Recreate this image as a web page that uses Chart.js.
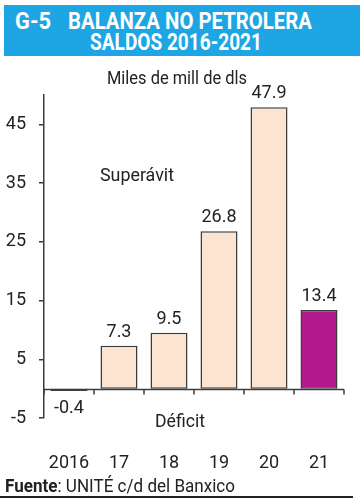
<!DOCTYPE html>
<html>
<head>
<meta charset="utf-8">
<script src="https://cdn.jsdelivr.net/npm/chart.js@4.4.1/dist/chart.umd.min.js"></script>
<style>
  html, body { margin: 0; padding: 0; background: #fff; }
  #wrap { position: relative; width: 364px; height: 500px; overflow: hidden; font-family: Roboto, sans-serif; color: #222; }
  #chartBox { position: absolute; left: 0; top: 0; width: 364px; height: 500px; }
  .txt { position: absolute; white-space: nowrap; transform-origin: 0 50%; line-height: 1; }
  #titleBox { position: absolute; left: 4px; top: 5px; width: 356px; height: 51px; background: #1ea5e3; }
  .title { color: #fff; font-weight: bold; font-size: 23px; }
  #rule { position: absolute; left: 0; top: 496px; width: 353px; height: 2px; background: #222; }
</style>
</head>
<body>
<div id="wrap">
  <div id="chartBox"><canvas id="chart"></canvas></div>
  <div id="titleBox"></div>
  <div class="txt title" data-w="36" style="left:15px; top:21px;">G-5</div>
  <div class="txt title" data-w="244" style="left:68px; top:21px;">BALANZA NO PETROLERA</div>
  <div class="txt title" data-w="172" style="left:90px; top:42px;">SALDOS 2016-2021</div>
  <div class="txt" data-w="140" style="left:107px; top:78px; font-size:18px;">Miles de mill de dls</div>
  <div class="txt" data-w="74" style="left:100px; top:175px; font-size:18px;">Superávit</div>
  <div class="txt" data-w="50" style="left:155px; top:421px; font-size:18px;">Déficit</div>
  <div class="txt" data-w="230" style="left:5px; top:486px; font-size:18px;"><b>Fuente</b>: UNITÉ c/d del Banxico</div>
  <div id="rule"></div>
</div>
<script>
// Datos
const categories = ['2016', '17', '18', '19', '20', '21'];
const values = [-0.4, 7.3, 9.5, 26.8, 47.9, 13.4];
const yTicks = [-5, 5, 15, 25, 35, 45];
const barColors = ['#fde4d0', '#fde4d0', '#fde4d0', '#fde4d0', '#fde4d0', '#b3198c'];

const FONT = 'Roboto, sans-serif';
const AXIS = '#3c3c3c';

// squeeze the condensed-looking texts to their widths
document.querySelectorAll('.txt').forEach(el => {
    const w = +el.dataset.w;
    const real = el.getBoundingClientRect().width;
    el.style.transform = 'translateY(-50%) scaleX(' + (w / real) + ')';
});

// zero line with ticks at the category boundaries
const zeroAxis = {
    id: 'zeroAxis',
    beforeDatasetsDraw(chart) {
        const { ctx, chartArea, scales } = chart;
        const y0 = Math.round(scales.y.getPixelForValue(0)) + 0.5;
        const n = categories.length;
        ctx.save();
        ctx.strokeStyle = AXIS;
        ctx.lineWidth = 1.5;
        ctx.beginPath();
        ctx.moveTo(chartArea.left, y0);
        ctx.lineTo(chartArea.right, y0);
        for (let i = 0; i <= n; i++) {
            let x;
            if (i === 0) x = chartArea.left;
            else if (i === n) x = chartArea.right;
            else x = (scales.x.getPixelForValue(i - 1) + scales.x.getPixelForValue(i)) / 2;
            x = Math.round(x);
            ctx.moveTo(x, y0);
            ctx.lineTo(x, y0 + 5);
        }
        ctx.stroke();
        ctx.restore();
    }
};

const valueLabels = {
    id: 'valueLabels',
    afterDatasetsDraw(chart) {
        const ctx = chart.ctx;
        const meta = chart.getDatasetMeta(0);
        ctx.save();
        ctx.font = '18px ' + FONT;
        ctx.fillStyle = '#222';
        ctx.textAlign = 'center';
        ctx.textBaseline = 'alphabetic';
        meta.data.forEach((bar, i) => {
            const v = values[i];
            const txt = v.toFixed(1);
            if (v >= 0) {
                ctx.fillText(txt, bar.x, bar.y - 9);
            } else {
                ctx.fillText(txt, bar.x, bar.y + 22);
            }
        });
        ctx.restore();
    }
};

const ctx = document.getElementById('chart').getContext('2d');
new Chart(ctx, {
    type: 'bar',
    data: {
        labels: categories,
        datasets: [{
            data: values,
            backgroundColor: barColors,
            borderColor: AXIS,
            borderWidth: 1.5,
            borderSkipped: false,
            barPercentage: 0.74,
            categoryPercentage: 1
        }]
    },
    options: {
        responsive: true,
        maintainAspectRatio: false,
        animation: false,
        layout: { padding: { top: 95, bottom: 0, left: 0, right: 20 } },
        plugins: {
            legend: { display: false },
            tooltip: { enabled: false }
        },
        scales: {
            x: {
                afterFit: s => { s.height = 82; },
                grid: { display: false },
                border: { display: false },
                ticks: {
                    color: '#222',
                    font: { family: FONT, size: 18 },
                    padding: 27,
                    maxRotation: 0
                }
            },
            y: {
                min: -5,
                max: 50,
                afterFit: s => { s.width = 44; },
                afterBuildTicks: s => { s.ticks = yTicks.map(v => ({ value: v })); },
                grid: {
                    display: true,
                    drawOnChartArea: false,
                    drawTicks: true,
                    tickLength: 5,
                    color: AXIS,
                    lineWidth: 1.5
                },
                border: { display: true, color: AXIS, width: 1.5 },
                ticks: {
                    color: '#222',
                    font: { family: FONT, size: 18 },
                    padding: 13
                }
            }
        }
    },
    plugins: [zeroAxis, valueLabels]
});
</script>
</body>
</html>
